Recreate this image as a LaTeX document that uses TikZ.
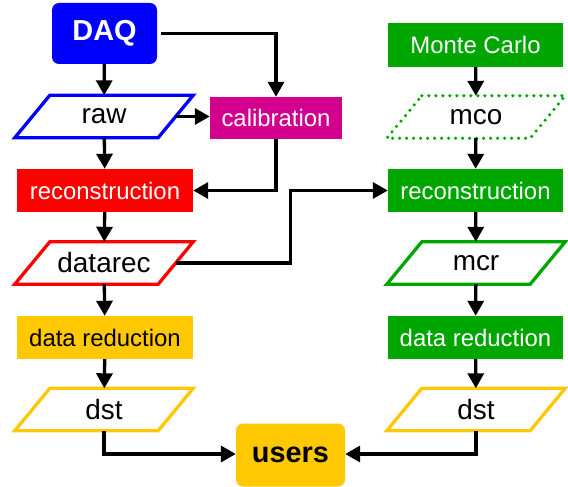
\documentclass[tikz,border=0pt]{standalone}
\usepackage{fontspec}
\setmainfont{Liberation Sans}
\usetikzlibrary{arrows.meta}

\definecolor{daqblue}{RGB}{0,0,255}
\definecolor{calmag}{RGB}{210,0,140}
\definecolor{recred}{RGB}{255,0,0}
\definecolor{dstyellow}{RGB}{255,200,0}
\definecolor{mcgreen}{RGB}{0,166,0}

\tikzset{
  procbox/.style={rectangle, draw=none, fill=#1, text=white, inner sep=0pt,
    minimum height=43bp, font=\fontsize{24}{28}\selectfont},
  startbox/.style={rectangle, rounded corners=7bp, fill=#1, inner sep=0pt,
    font=\bfseries\fontsize{29}{33}\selectfont},
  iotext/.style={rectangle, inner sep=0pt, minimum width=143bp,
    minimum height=42bp, font=\fontsize{28}{32}\selectfont},
  ioframe/.style={line width=3.3bp, line join=miter},
  flow/.style={line width=3.3bp, -{Triangle[length=15bp, width=16bp]}},
}

% data-set symbol: a parallelogram drawn around a named text node
\newcommand{\dataset}[5]{%
  \node[iotext] (#1) at (#2,#3) {#5};
  \draw[ioframe, #4]
    ([xshift=17.5bp]#1.north west) -- ([xshift=17.5bp]#1.north east) --
    ([xshift=-17.5bp]#1.south east) -- ([xshift=-17.5bp]#1.south west) -- cycle;}

\begin{document}
\begin{tikzpicture}[x=1bp, y=-1bp]
\useasboundingbox (0,0) rectangle (568,487);

% ---- real data chain ----
\node[startbox=daqblue, text=white, minimum width=105bp, minimum height=61bp]
  (daq) at (104.5,33.5) {DAQ};
\dataset{raw}{104}{116.5}{draw=daqblue}{raw}
\node[procbox=calmag, minimum width=132bp, minimum height=42bp]
  (cal) at (276,118) {calibration};
\node[procbox=recred, minimum width=176bp] (rec) at (105,190.5) {reconstruction};
\dataset{datarec}{104}{263}{draw=recred}{datarec}
\node[procbox=dstyellow, text=black, minimum width=176bp]
  (red) at (105,337.5) {data reduction};
\dataset{dst}{104}{409.5}{draw=dstyellow}{dst}

% ---- simulation chain ----
\node[procbox=mcgreen, minimum width=175bp, minimum height=44bp]
  (mc) at (475.5,45) {Monte Carlo};
\dataset{mco}{476}{117}{draw=mcgreen, line width=3.5bp, line cap=round,
  dash pattern=on 0pt off 7bp}{mco}
\node[procbox=mcgreen, minimum width=175bp] (mcrec) at (475.5,190.5) {reconstruction};
\dataset{mcr}{476}{263}{draw=mcgreen}{mcr}
\node[procbox=mcgreen, minimum width=175bp] (mcred) at (475.5,337.5) {data reduction};
\dataset{mcdst}{476}{409.5}{draw=dstyellow}{dst}

% ---- end point ----
\node[startbox=dstyellow, text=black, minimum width=109bp, minimum height=63bp]
  (users) at (290.5,455) {users};

% ---- connectors ----
\draw[flow] (daq) -- (raw);
\draw[flow] ([xshift=4bp]daq.east) -| (cal.north);
\draw[flow] (raw.east) -- (raw.east -| cal.west);
\draw[flow] (raw) -- (rec);
\draw[flow] (cal.south) |- (rec.east);
\draw[flow] (rec) -- (datarec);
\draw[flow] (datarec.east) -- ++(115,0) |- (mcrec.west);
\draw[flow] (datarec) -- (red);
\draw[flow] (red) -- (dst);
\draw[flow] (dst.south) |- ([yshift=1bp]users.west);
\draw[flow] (mc) -- (mco);
\draw[flow] (mco) -- (mcrec);
\draw[flow] (mcrec) -- (mcr);
\draw[flow] (mcr) -- (mcred);
\draw[flow] (mcred) -- (mcdst);
\draw[flow] (mcdst.south) |- ([yshift=1bp]users.east);
\end{tikzpicture}
\end{document}
